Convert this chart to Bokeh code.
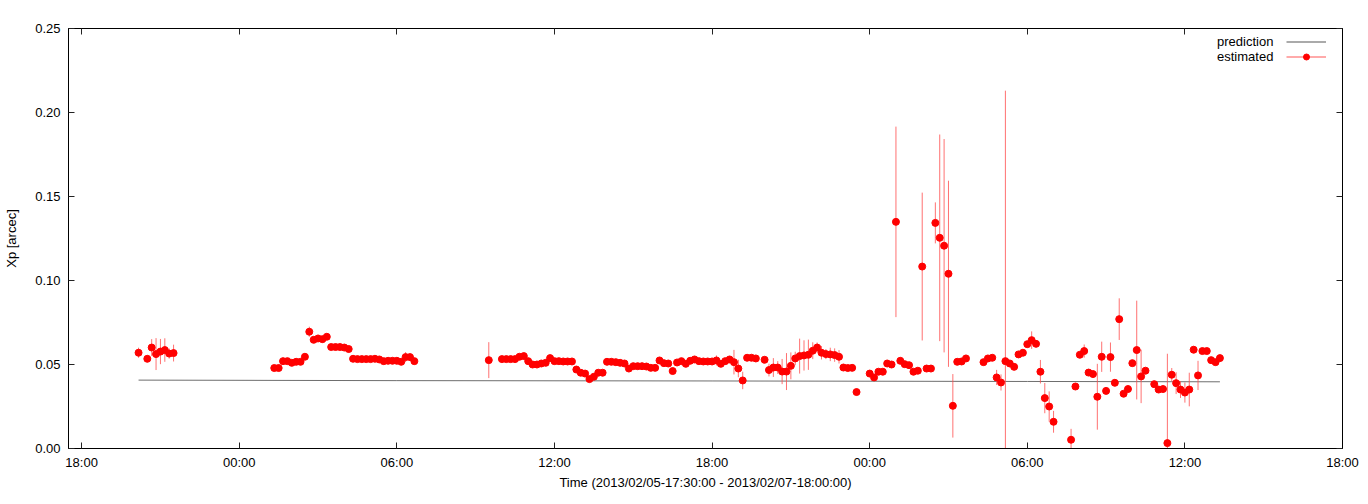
import math
import pandas as pd
from bokeh.plotting import figure
from bokeh.models import (Range1d, FixedTicker, DatetimeTickFormatter, PrintfTickFormatter,
                          LinearAxis, DatetimeAxis, Legend, LegendItem, ColumnDataSource)
from bokeh.embed import file_html
from bokeh.resources import INLINE

# ---------------- data ----------------
x_start = "2013-02-05 17:30"
x_end = "2013-02-07 18:00"
x_ticks = ["2013-02-05 18:00", "2013-02-06 00:00", "2013-02-06 06:00", "2013-02-06 12:00",
           "2013-02-06 18:00", "2013-02-07 00:00", "2013-02-07 06:00", "2013-02-07 12:00",
           "2013-02-07 18:00"]
y_ticks = [0.0, 0.05, 0.10, 0.15, 0.20, 0.25]

# prediction (grey line)
pred_time = ["2013-02-05 20:10", "2013-02-06 06:00", "2013-02-06 18:00", "2013-02-07 06:00", "2013-02-07 13:20"]
pred_xp = [0.0407, 0.0404, 0.0402, 0.0399, 0.0397]

# estimated (red points with error bars)
t_0205 = ["20:10", "20:30", "20:40", "20:50", "21:00", "21:10", "21:20", "21:30"]
t_0206 = ["01:20", "01:30", "01:40", "01:50", "02:00", "02:10", "02:20", "02:30", "02:40", "02:50",
          "03:00", "03:10", "03:20", "03:30", "03:40", "03:50", "04:00", "04:10", "04:20", "04:30",
          "04:40", "04:50", "05:00", "05:10", "05:20", "05:30", "05:40", "05:50", "06:00", "06:10",
          "06:20", "06:30", "06:40", "09:30", "10:00", "10:10", "10:20", "10:30", "10:40", "10:50",
          "11:00", "11:10", "11:20", "11:30", "11:40", "11:50", "12:00", "12:10", "12:20", "12:30",
          "12:40", "12:50", "13:00", "13:10", "13:20", "13:30", "13:40", "13:50", "14:00", "14:10",
          "14:20", "14:30", "14:40", "14:50", "15:00", "15:10", "15:20", "15:30", "15:40", "15:50",
          "16:00", "16:10", "16:20", "16:30", "16:40", "16:50", "17:00", "17:10", "17:20", "17:30",
          "17:40", "17:50", "18:00", "18:10", "18:20", "18:30", "18:40", "18:50", "19:00", "19:10",
          "19:20", "19:30", "19:40", "20:00", "20:10", "20:20", "20:30", "20:40", "20:50", "21:00",
          "21:10", "21:20", "21:30", "21:40", "21:50", "22:00", "22:10", "22:20", "22:30", "22:40",
          "22:50", "23:00", "23:10", "23:20", "23:30"]
t_0207 = ["00:00", "00:10", "00:20", "00:30", "00:40", "00:50", "01:00", "01:10", "01:20", "01:30",
          "01:40", "01:50", "02:00", "02:10", "02:20", "02:30", "02:40", "02:50", "03:00", "03:10",
          "03:20", "03:30", "03:40", "04:20", "04:30", "04:40", "04:50", "05:00", "05:10", "05:20",
          "05:30", "05:40", "05:50", "06:00", "06:10", "06:20", "06:30", "06:40", "06:50", "07:00",
          "07:40", "07:50", "08:00", "08:10", "08:20", "08:30", "08:40", "08:50", "09:00", "09:10",
          "09:20", "09:30", "09:40", "09:50", "10:00", "10:10", "10:20", "10:30", "10:50", "11:00",
          "11:10", "11:20", "11:30", "11:40", "11:50", "12:00", "12:10", "12:20", "12:30", "12:40",
          "12:50", "13:00", "13:10", "13:20"]

est_xp = [
    # 02/05
    0.0570, 0.0534, 0.0601, 0.0562, 0.0577, 0.0586, 0.0565, 0.0568,
    # 02/06
    0.0479, 0.0479, 0.0520, 0.0520, 0.0510, 0.0516, 0.0516, 0.0546, 0.0695, 0.0647,
    0.0655, 0.0651, 0.0665, 0.0604, 0.0604, 0.0604, 0.0601, 0.0592, 0.0534, 0.0532,
    0.0532, 0.0532, 0.0532, 0.0534, 0.0530, 0.0520, 0.0522, 0.0522, 0.0522, 0.0516,
    0.0544, 0.0544, 0.0520, 0.0526, 0.0532, 0.0532, 0.0532, 0.0532, 0.0546, 0.0550,
    0.0520, 0.0500, 0.0500, 0.0506, 0.0510, 0.0538, 0.0520, 0.0520, 0.0518, 0.0518,
    0.0518, 0.0470, 0.0451, 0.0446, 0.0413, 0.0427, 0.0451, 0.0451, 0.0516, 0.0516,
    0.0514, 0.0510, 0.0506, 0.0476, 0.0490, 0.0490, 0.0490, 0.0488, 0.0480, 0.0480,
    0.0524, 0.0508, 0.0506, 0.0461, 0.0512, 0.0520, 0.0504, 0.0522, 0.0530, 0.0520,
    0.0518, 0.0518, 0.0518, 0.0524, 0.0504, 0.0520, 0.0530, 0.0514, 0.0476, 0.0405,
    0.0540, 0.0540, 0.0536, 0.0528, 0.0467, 0.0482, 0.0482, 0.0458, 0.0458, 0.0492,
    0.0536, 0.0550, 0.0554, 0.0558, 0.0582, 0.0601, 0.0570, 0.0562, 0.0560, 0.0556,
    0.0546, 0.0482, 0.0479, 0.0480, 0.0336,
    # 02/07
    0.0446, 0.0423, 0.0457, 0.0457, 0.0506, 0.0500, 0.1349, 0.0522, 0.0502, 0.0496,
    0.0457, 0.0463, 0.1083, 0.0476, 0.0476, 0.1343, 0.1254, 0.1207, 0.1040, 0.0254,
    0.0516, 0.0518, 0.0536, 0.0514, 0.0536, 0.0540, 0.0423, 0.0393, 0.0520, 0.0506,
    0.0486, 0.0560, 0.0570, 0.0621, 0.0645, 0.0623, 0.0457, 0.0300, 0.0250, 0.0159,
    0.0052, 0.0369, 0.0558, 0.0580, 0.0452, 0.0443, 0.0308, 0.0546, 0.0343, 0.0544,
    0.0391, 0.0770, 0.0326, 0.0354, 0.0508, 0.0586, 0.0429, 0.0463, 0.0383, 0.0351,
    0.0354, 0.0032, 0.0439, 0.0389, 0.0351, 0.0333, 0.0351, 0.0588, 0.0435, 0.0580,
    0.0580, 0.0526, 0.0514, 0.0538,
]

est_err = [
    # 02/05
    0.0030, 0.0020, 0.0050, 0.0095, 0.0075, 0.0070, 0.0030, 0.0050,
    # 02/06
    0.0015, 0.0015, 0.0015, 0.0015, 0.0015, 0.0015, 0.0015, 0.0015, 0.0030, 0.0015,
    0.0015, 0.0020, 0.0015, 0.0015, 0.0015, 0.0015, 0.0015, 0.0020, 0.0015, 0.0015,
    0.0015, 0.0015, 0.0015, 0.0015, 0.0015, 0.0015, 0.0015, 0.0015, 0.0015, 0.0015,
    0.0030, 0.0015, 0.0015, 0.0107, 0.0015, 0.0015, 0.0015, 0.0015, 0.0015, 0.0015,
    0.0015, 0.0015, 0.0015, 0.0015, 0.0015, 0.0015, 0.0015, 0.0015, 0.0015, 0.0015,
    0.0015, 0.0015, 0.0015, 0.0015, 0.0020, 0.0015, 0.0015, 0.0015, 0.0015, 0.0015,
    0.0015, 0.0015, 0.0015, 0.0015, 0.0015, 0.0015, 0.0015, 0.0015, 0.0015, 0.0015,
    0.0020, 0.0015, 0.0015, 0.0015, 0.0015, 0.0015, 0.0015, 0.0015, 0.0015, 0.0015,
    0.0015, 0.0015, 0.0015, 0.0030, 0.0015, 0.0015, 0.0015, 0.0073, 0.0052, 0.0052,
    0.0015, 0.0015, 0.0015, 0.0015, 0.0038, 0.0056, 0.0038, 0.0075, 0.0110, 0.0080,
    0.0040, 0.0104, 0.0090, 0.0090, 0.0050, 0.0030, 0.0040, 0.0030, 0.0040, 0.0040,
    0.0040, 0.0020, 0.0015, 0.0015, 0.0020,
    # 02/07
    0.0015, 0.0015, 0.0015, 0.0015, 0.0015, 0.0015, 0.0567, 0.0015, 0.0015, 0.0015,
    0.0015, 0.0015, 0.0440, 0.0015, 0.0015, 0.0122, 0.0615, 0.0635, 0.0554, 0.0189,
    0.0015, 0.0015, 0.0015, 0.0015, 0.0015, 0.0015, 0.0045, 0.0048, 0.1610, 0.0015,
    0.0015, 0.0015, 0.0015, 0.0015, 0.0052, 0.0015, 0.0070, 0.0090, 0.0090, 0.0065,
    0.0065, 0.0015, 0.0015, 0.0039, 0.0015, 0.0015, 0.0196, 0.0090, 0.0015, 0.0087,
    0.0015, 0.0124, 0.0015, 0.0015, 0.0015, 0.0294, 0.0159, 0.0015, 0.0015, 0.0015,
    0.0015, 0.0532, 0.0040, 0.0065, 0.0050, 0.0060, 0.0100, 0.0020, 0.0087, 0.0015,
    0.0015, 0.0015, 0.0015, 0.0015,
]

# ---------------- build ----------------
FONT = "Liberation Sans"
NAN = math.nan


def to_ms(strings):
    idx = pd.to_datetime(strings)
    return [float(v) for v in (idx - pd.Timestamp("1970-01-01")) // pd.Timedelta(milliseconds=1)]


est_time = (["2013-02-05 " + t for t in t_0205] +
            ["2013-02-06 " + t for t in t_0206] +
            ["2013-02-07 " + t for t in t_0207])

src = ColumnDataSource(dict(
    t=to_ms(est_time),
    xp=est_xp,
    lo=[v - e for v, e in zip(est_xp, est_err)],
    hi=[v + e for v, e in zip(est_xp, est_err)],
))

x0, x1 = to_ms([x_start, x_end])
p = figure(width=1360, height=496, x_axis_type="datetime",
           x_range=Range1d(x0, x1), y_range=Range1d(0, 0.25),
           output_backend="svg", toolbar_location=None,
           min_border_left=68, min_border_right=18, min_border_top=28, min_border_bottom=48)

p.background_fill_color = "white"
p.border_fill_color = "white"
p.outline_line_color = "black"
p.outline_line_width = 1
p.xgrid.visible = False
p.ygrid.visible = False

p.line(x=to_ms(pred_time), y=pred_xp, line_color="#6e6e6e", line_width=1)
p.segment(x0="t", y0="lo", x1="t", y1="hi", source=src,
          line_color="#ff4d4d", line_width=1, line_alpha=0.8)
p.scatter(x="t", y="xp", source=src, size=7, fill_color="#ff0000", line_color="#ff0000")

# axes
xax = p.xaxis[0]
xax.ticker = FixedTicker(ticks=to_ms(x_ticks))
xax.formatter = DatetimeTickFormatter(hourmin="%H:%M", hours="%H:%M", days="%H:%M",
                                      minutes="%H:%M", months="%H:%M", years="%H:%M")
xax.axis_label = "Time (2013/02/05-17:30:00 - 2013/02/07-18:00:00)"
yax = p.yaxis[0]
yax.ticker = FixedTicker(ticks=y_ticks)
yax.formatter = PrintfTickFormatter(format="%.2f")
yax.axis_label = "Xp [arcec]"

for ax in (xax, yax):
    ax.major_tick_in = 6
    ax.major_tick_out = 0
    ax.minor_tick_line_color = None
    ax.major_tick_line_color = "#222222"
    ax.axis_line_color = "black"
    ax.major_label_text_font = FONT
    ax.major_label_text_font_size = "13px"
    ax.major_label_text_color = "black"
    ax.axis_label_text_font = FONT
    ax.axis_label_text_font_size = "13px"
    ax.axis_label_text_font_style = "normal"
    ax.axis_label_text_color = "black"

xax.major_label_standoff = 6
xax.axis_label_standoff = 2
yax.major_label_standoff = 8
yax.axis_label_standoff = 13

# mirrored tick marks on top and right (no labels)
top_ax = DatetimeAxis(ticker=FixedTicker(ticks=to_ms(x_ticks)))
right_ax = LinearAxis(ticker=FixedTicker(ticks=y_ticks))
for ax in (top_ax, right_ax):
    ax.major_tick_in = 6
    ax.major_tick_out = 0
    ax.minor_tick_line_color = None
    ax.major_tick_line_color = "#222222"
    ax.axis_line_color = "black"
    ax.major_label_text_color = None
    ax.major_label_text_font_size = "2px"
    ax.major_label_standoff = 0
p.add_layout(top_ax, "above")
p.add_layout(right_ax, "right")

# legend (text right-aligned left of the sample glyphs, gnuplot style)
blank = p.line(x=[x0], y=[NAN], line_alpha=0)
leg_pred = p.line(x=[x0], y=[NAN], line_color="#aaaaaa", line_width=2)
leg_err = p.segment(x0=[x0], y0=[NAN], x1=[x0], y1=[NAN], line_color="#ffaaaa", line_width=2)
leg_dot = p.scatter(x=[x0], y=[NAN], size=7, fill_color="#ff0000", line_color="#ff0000")

legend_text = Legend(items=[LegendItem(label="prediction", renderers=[blank]),
                            LegendItem(label="estimated", renderers=[blank])],
                     location=(1149, 384), glyph_width=0, glyph_height=15, label_height=15,
                     label_standoff=0, padding=0, margin=0, spacing=0,
                     label_text_font=FONT, label_text_font_size="13px", label_text_color="black",
                     background_fill_alpha=0, border_line_alpha=0)
legend_glyph = Legend(items=[LegendItem(label=" ", renderers=[leg_pred]),
                             LegendItem(label=" ", renderers=[leg_err, leg_dot])],
                      location=(1218, 384), glyph_width=40, glyph_height=15, label_height=15,
                      label_width=0, label_standoff=0, padding=0, margin=0, spacing=0,
                      label_text_font_size="13px",
                      background_fill_alpha=0, border_line_alpha=0)
p.add_layout(legend_text, "center")
p.add_layout(legend_glyph, "center")

open("out.html", "w").write(file_html(p, INLINE))
